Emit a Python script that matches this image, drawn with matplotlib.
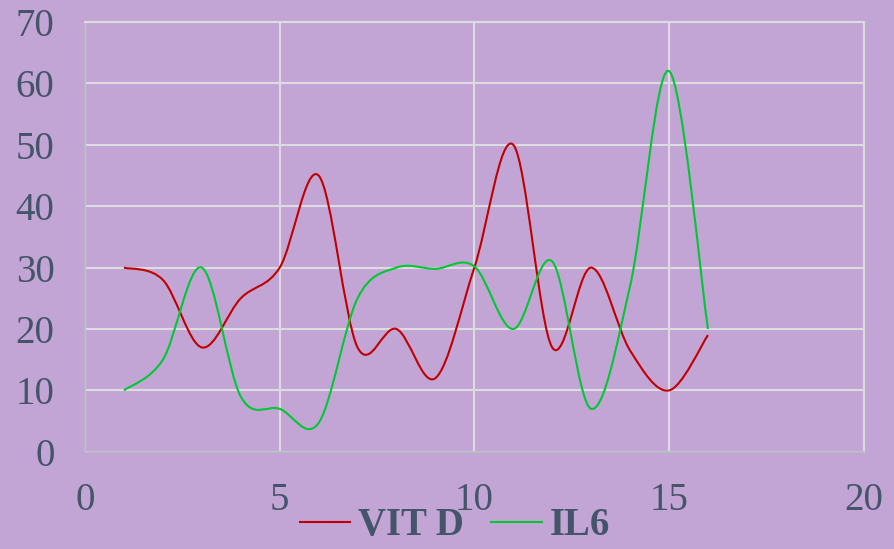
import numpy as np
import matplotlib
matplotlib.use("Agg")
import matplotlib.pyplot as plt
from matplotlib.path import Path
from matplotlib.patches import PathPatch
from matplotlib.lines import Line2D

# data
x_vals = [1, 2, 3, 4, 5, 6, 7, 8, 9, 10, 11, 12, 13, 14, 15, 16]
vit_d = [30, 28, 17, 25, 30, 45, 17, 20, 12, 30, 50, 17, 30, 16.5, 10, 19]
il6 = [10, 15, 30, 9, 7, 4.7, 25, 30, 29.8, 30.2, 20, 31, 7, 27, 62, 20]
series_names = ["VIT D", "IL6"]
x_ticks = [0, 5, 10, 15, 20]
y_ticks = [0, 10, 20, 30, 40, 50, 60, 70]

bg = "#C3A5D5"
txt = "#44546A"
red = "#C00000"
green = "#00C832"
grid_c = "#DCDCE0"

plt.rcParams["font.family"] = ["Liberation Serif", "DejaVu Serif"]


def smooth_path(xs, ys):
    # excel-like smoothed line: cubic bezier, catmull-rom style controls
    pts = np.column_stack([xs, ys]).astype(float)
    n = len(pts)
    verts = [pts[0]]
    codes = [Path.MOVETO]
    for i in range(n - 1):
        p0 = pts[i - 1] if i > 0 else pts[i]
        p1 = pts[i]
        p2 = pts[i + 1]
        p3 = pts[i + 2] if i + 2 < n else pts[i + 1]
        c1 = p1 + (p2 - p0) / 6.0
        c2 = p2 - (p3 - p1) / 6.0
        verts += [c1, c2, p2]
        codes += [Path.CURVE4] * 3
    return Path(verts, codes)


fig = plt.figure(figsize=(8.95, 5.49), dpi=100, facecolor=bg)
ax = fig.add_axes([0.095, 0.177, 0.870, 0.783])
ax.set_facecolor(bg)

for ys, col in [(vit_d, red), (il6, green)]:
    ax.add_patch(PathPatch(smooth_path(x_vals, ys), facecolor="none",
                           edgecolor=col, lw=1.5, zorder=3))

ax.set_xlim(0, 20)
ax.set_ylim(0, 70)
ax.set_xticks(x_ticks)
ax.set_yticks(y_ticks)
ax.grid(True, color=grid_c, lw=1.5, zorder=1)
ax.set_axisbelow(True)
for s in ["top", "right"]:
    ax.spines[s].set_color(grid_c)
    ax.spines[s].set_linewidth(1.5)
for s in ["left", "bottom"]:
    ax.spines[s].set_color("#B8BCC4")
    ax.spines[s].set_linewidth(1.2)
ax.tick_params(length=0, labelsize=28, colors=txt)
ax.tick_params(axis="y", pad=22)
ax.tick_params(axis="x", pad=22)

handles = [Line2D([], [], color=red, lw=1.5), Line2D([], [], color=green, lw=1.5)]
fig.legend(handles, series_names, loc="lower center", bbox_to_anchor=(0.508, -0.055),
           ncol=2, frameon=False, handlelength=1.3, handletextpad=0.2,
           columnspacing=0.7, prop={"size": 28, "weight": "bold"},
           labelcolor=txt)

fig.savefig("out.png", dpi=100, facecolor=bg)
